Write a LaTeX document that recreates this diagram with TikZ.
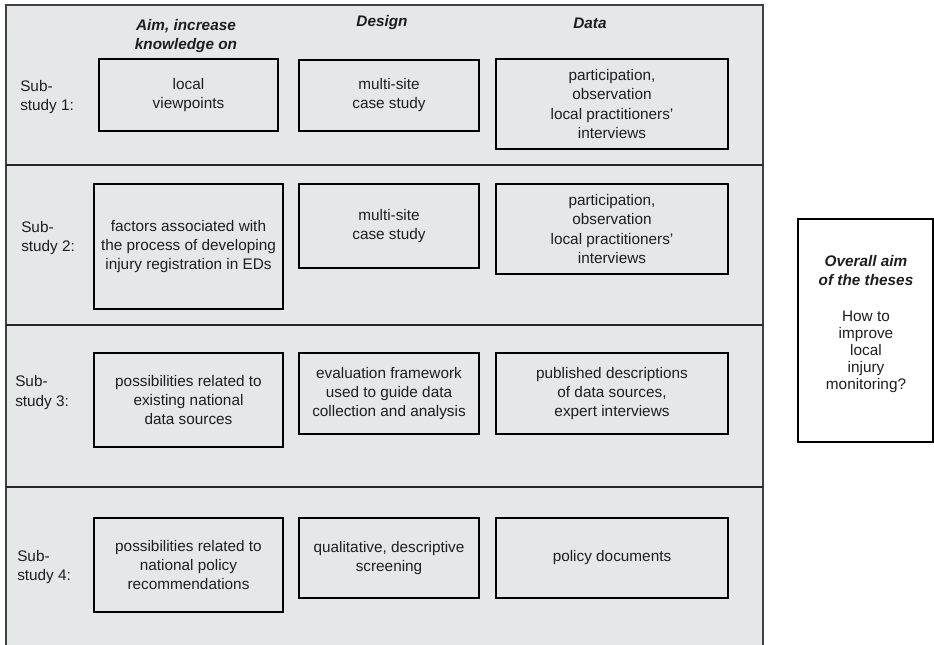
\documentclass[tikz,border=0pt]{standalone}
\usepackage{fontspec}
\setmainfont{Liberation Sans}
\definecolor{bggray}{HTML}{E6E7E8}
\definecolor{txt}{HTML}{1E1E1E}
\begin{document}
\begin{tikzpicture}[x=0.75pt,y=-0.75pt,
  every node/.style={font=\fontsize{11.5}{14.3}\selectfont, text=txt, inner sep=0pt},
  bx/.style={draw=black, line width=1.5pt, align=center},
  hdr/.style={font=\fontsize{11.5}{14.3}\selectfont\bfseries\itshape, align=center},
  lbl/.style={anchor=west, align=left}]
\useasboundingbox (0,0) rectangle (934,645);
% background panel
\fill[bggray] (6,5) rectangle (763,646);
\draw[line width=0.8pt, draw=black!75] (6,646) -- (6,5) -- (763,5) -- (763,646);
\foreach \yy in {165,325,487}
  \draw[line width=1.2pt, draw=black!85] (6,\yy) -- (763,\yy);
% headers
\node[hdr] (h1) at (186,36.5) {Aim, increase\\knowledge on};
\node[hdr] (h2) at (382,23) {Design};
\node[hdr] (h3) at (590,23) {Data};
% row labels
\node[lbl] (l1) at (20,97) {Sub-\\study 1:};
\node[lbl] (l2) at (21,238) {Sub-\\study 2:};
\node[lbl] (l3) at (15,392.5) {Sub-\\study 3:};
\node[lbl] (l4) at (17,567) {Sub-\\study 4:};
% row 1
\node[bx, minimum width=134.25pt, minimum height=54pt] (a1) at (188.5,95) {local\\viewpoints};
\node[bx, minimum width=135pt, minimum height=53.25pt] (d1) at (389,95.5) {multi-site\\case study};
\node[bx, minimum width=174pt, minimum height=67.5pt] (t1) at (612,104) {participation,\\observation\\local practitioners'\\interviews};
% row 2
\node[bx, minimum width=141.75pt, minimum height=93.75pt] (a2) at (188.5,246.5) {factors associated with\\the process of developing\\injury registration in EDs};
\node[bx, minimum width=135pt, minimum height=63pt] (d2) at (389,226) {multi-site\\case study};
\node[bx, minimum width=174pt, minimum height=67.5pt] (t2) at (612,229) {participation,\\observation\\local practitioners'\\interviews};
% row 3
\node[bx, minimum width=141.75pt, minimum height=70.5pt] (a3) at (188.5,400) {possibilities related to\\existing national\\data sources};
\node[bx, minimum width=135pt, minimum height=60.75pt] (d3) at (389,393.5) {evaluation framework\\used to guide data\\collection and analysis};
\node[bx, minimum width=174pt, minimum height=60.75pt] (t3) at (612,393.5) {published descriptions\\of data sources,\\expert interviews};
% row 4
\node[bx, minimum width=141.75pt, minimum height=70.5pt] (a4) at (188.5,565) {possibilities related to\\national policy\\recommendations};
\node[bx, minimum width=135pt, minimum height=60pt] (d4) at (389,558) {qualitative, descriptive\\screening};
\node[bx, minimum width=174pt, minimum height=60pt] (t4) at (612,558) {policy documents};
% overall aim box
\node[bx, fill=white, minimum width=101.25pt, minimum height=167.25pt] (oa) at (865.5,330.5) {};
\node[align=center, font=\fontsize{11.5}{12.8}\selectfont] (oat) at (866,324)
  {{\bfseries\itshape Overall aim}\\[1.5pt]{\bfseries\itshape of the theses}\\[14pt]How to\\improve\\local\\injury\\monitoring?};
\end{tikzpicture}
\end{document}
